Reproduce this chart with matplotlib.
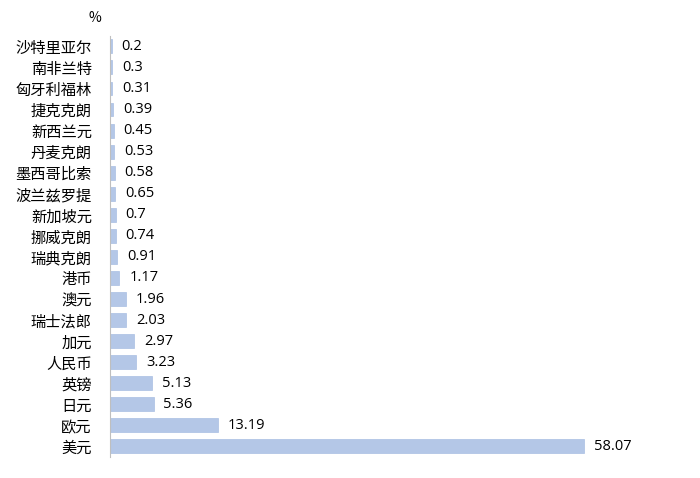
import matplotlib
matplotlib.use("Agg")
import matplotlib.pyplot as plt

plt.rcParams['font.family'] = ['Noto Sans CJK SC', 'DejaVu Sans']

categories = ["沙特里亚尔","南非兰特","匈牙利福林","捷克克朗","新西兰元","丹麦克朗","墨西哥比索",
              "波兰兹罗提","新加坡元","挪威克朗","瑞典克朗","港币","澳元","瑞士法郎","加元",
              "人民币","英镑","日元","欧元","美元"]
values = [0.2,0.3,0.31,0.39,0.45,0.53,0.58,0.65,0.7,0.74,0.91,1.17,1.96,2.03,2.97,3.23,5.13,5.36,13.19,58.07]

fig = plt.figure(figsize=(7,4.78), dpi=100)
ax = fig.add_axes([0.157, 0.044, 0.829, 0.881])
y = list(range(len(categories)))
ax.barh(y, values, height=0.66, color='#b4c7e7', edgecolor='#a9bfe3', linewidth=0.5)
ax.set_ylim(len(categories)-0.5, -0.5)
ax.set_xlim(0, 71.1)
ax.set_yticks(y)
ax.set_yticklabels(categories, fontsize=11)
ax.tick_params(axis='y', length=0, pad=13)
for yi, v in zip(y, values):
    ax.text(v + 1.2, yi, f"{v:g}", va='center', ha='left', fontsize=10.5, family=['Open Sans','DejaVu Sans'])
for s in ['top','right','bottom']:
    ax.spines[s].set_visible(False)
ax.spines['left'].set_color('#bfbfbf')
ax.set_xticks([])
fig.text(95/700, 1-18/478, "%", ha='center', va='center', fontsize=10)
fig.savefig("out.png", dpi=100)
